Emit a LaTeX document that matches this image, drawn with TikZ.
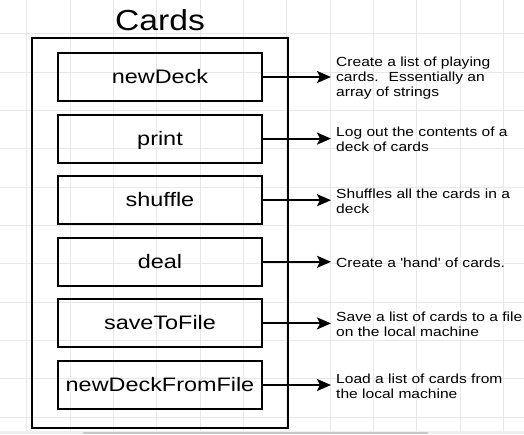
\documentclass[tikz,border=0pt]{standalone}
\usepackage{fontspec}
\setmainfont{Liberation Sans}
\newfontfamily\titlefont[FakeStretch=1.16,Ligatures=TeXOff]{Liberation Sans}
\newfontfamily\labelfont[FakeStretch=1.2,Ligatures=TeXOff]{Liberation Sans}
\newfontfamily\descfont[FakeStretch=1.18,Ligatures=TeXOff]{Liberation Sans}
\usetikzlibrary{arrows.meta}
\begin{document}
\begin{tikzpicture}[x=1pt,y=-1pt,
  fnbox/.style={draw=black,line width=2pt,minimum width=204pt,minimum height=48pt,
    inner sep=0pt,text height=13.5pt,text depth=0.5pt,
    font=\labelfont\fontsize{19.5}{22}\selectfont},
  desc/.style={anchor=west,align=left,inner sep=0pt,
    font=\descfont\fontsize{13.2}{15}\selectfont},
  conn/.style={line width=2pt,-{Stealth[length=14pt,width=12pt,inset=3pt]}},
  gridline/.style={draw=black!9,line width=0.6pt}]
\useasboundingbox (0,0) rectangle (524,434);
\fill[white] (0,0) rectangle (524,434);
% background grid
\foreach \gx in {26.7,70,113.3,156.7,200,243.3,286.7,330,373.3,416.7,460,503.3}
  \draw[gridline] (\gx,0) -- (\gx,431);
\foreach \gy in {33.7,72,110.3,148.7,187,225.3,263.7,302,340.3,378.7,417}
  \draw[gridline] (0,\gy) -- (524,\gy);
% bottom bar
\fill[black!6] (0,431) rectangle (524,434);
\fill[black!22] (83,431.5) rectangle (428,434);
% title
\node[anchor=base,inner sep=0pt,font=\titlefont\fontsize{29}{32}\selectfont] (title) at (160,30) {Cards};
% outer box
\node[draw=black,line width=2pt,minimum width=256pt,minimum height=390pt,inner sep=0pt] (outer) at (160,233) {};
% method boxes
\node[fnbox] (b1) at (160,77) {newDeck};
\node[fnbox] (b2) at (160,138.6) {print};
\node[fnbox] (b3) at (160,200.2) {shuffle};
\node[fnbox] (b4) at (160,261.8) {deal};
\node[fnbox] (b5) at (160,323.4) {saveToFile};
\node[fnbox] (b6) at (160,385) {newDeckFromFile};
% descriptions
\node[desc] (d1) at (336,78) {Create a list of playing\\cards.~ Essentially an\\array of strings};
\node[desc] (d2) at (336,139.6) {Log out the contents of a\\deck of cards};
\node[desc] (d3) at (336,201.2) {Shuffles all the cards in a\\deck};
\node[desc] (d4) at (336,262.8) {Create a 'hand' of cards.};
\node[desc] (d5) at (336,324.4) {Save a list of cards to a file\\on the local machine};
\node[desc] (d6) at (336,386) {Load a list of cards from\\the local machine};
% connectors
\foreach \i in {1,...,6}
  \draw[conn] (b\i.east) -- ([xshift=-5pt]d\i.west |- b\i.east);
\end{tikzpicture}
\end{document}
